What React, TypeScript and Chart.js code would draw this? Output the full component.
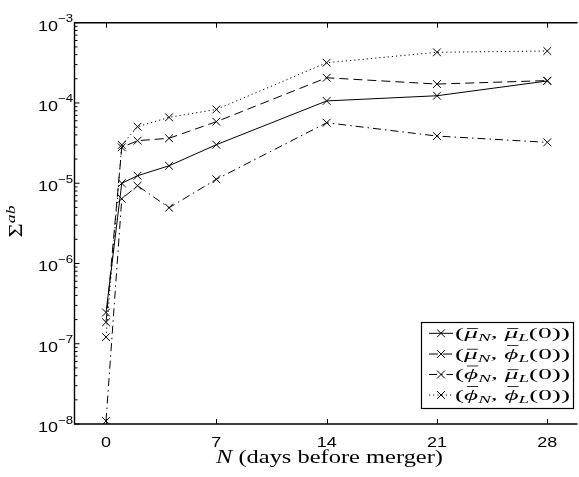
import React, { useEffect, useRef } from "react";
import { Chart, registerables } from "chart.js";

Chart.register(...registerables);

// ---- data ----
const days = [0, 1, 2, 4, 7, 14, 21, 28];
const muMu = [2.45e-7, 1.0e-5, 1.24e-5, 1.65e-5, 3.02e-5, 1.06e-4, 1.23e-4, 1.88e-4];
const muPhi = [1.85e-7, 2.8e-5, 3.39e-5, 3.63e-5, 5.84e-5, 2.06e-4, 1.72e-4, 1.9e-4];
const phiMu = [1.09e-8, 6.4e-6, 9.3e-6, 4.95e-6, 1.12e-5, 5.67e-5, 3.87e-5, 3.23e-5];
const phiPhi = [1.21e-7, 3.0e-5, 5.06e-5, 6.62e-5, 8.3e-5, 3.17e-4, 4.28e-4, 4.44e-4];
const seriesLabels = ["(μ̄N, μ̄L(0))", "(μ̄N, ϕ̄L(0))", "(ϕ̄N, μ̄L(0))", "(ϕ̄N, ϕ̄L(0))"];
const legendFirst = ["μ", "μ", "ϕ", "ϕ"];
const legendSecond = ["μ", "ϕ", "μ", "ϕ"];
const xTicks = [0, 7, 14, 21, 28];
const yExponents = [-8, -7, -6, -5, -4, -3];
const xTitleItalic = "N";
const xTitleRest = " (days before merger)";

const SANS = '"Liberation Sans", Arial, sans-serif';
const SERIF = '"Liberation Serif", "Times New Roman", serif';

type Seg = {
  t: string;
  italic?: boolean;
  size?: number;
  dy?: number;
  bar?: number; // bar height as fraction of size
};

function drawRich(
  ctx: CanvasRenderingContext2D,
  x: number,
  y: number,
  segs: Seg[],
  size: number,
  family: string,
  sx: number,
  align: "left" | "center" | "right",
  targetWidth?: number
) {
  const fontFor = (s: Seg) => `${s.italic ? "italic " : ""}${s.size ?? size}px ${family}`;
  const widths = segs.map((s) => {
    ctx.font = fontFor(s);
    return ctx.measureText(s.t).width;
  });
  const total = widths.reduce((a, b) => a + b, 0);
  const scale = targetWidth ? targetWidth / total : sx;
  ctx.save();
  ctx.translate(x, y);
  ctx.scale(scale, 1);
  ctx.textBaseline = "alphabetic";
  ctx.textAlign = "left";
  let cx = align === "left" ? 0 : align === "center" ? -total / 2 : -total;
  segs.forEach((s, i) => {
    ctx.font = fontFor(s);
    const dy = s.dy ?? 0;
    ctx.fillText(s.t, cx, dy);
    if (s.bar) {
      const sz = s.size ?? size;
      const by = dy - sz * s.bar;
      ctx.beginPath();
      ctx.lineWidth = 0.8;
      ctx.moveTo(cx + widths[i] * 0.2, by);
      ctx.lineTo(cx + widths[i] * 1.0, by);
      ctx.stroke();
    }
    cx += widths[i];
  });
  ctx.restore();
}

const barFor = (g: string) => (g === "ϕ" ? 0.84 : 0.6);

function legendSegs(a: string, b: string, size: number): Seg[] {
  const sub = size * 0.7;
  return [
    { t: "(" },
    { t: a, italic: true, bar: barFor(a) },
    { t: "N", italic: true, size: sub, dy: size * 0.22 },
    { t: ", " },
    { t: b, italic: true, bar: barFor(b) },
    { t: "L", italic: true, size: sub, dy: size * 0.22 },
    { t: "(0))" },
  ];
}

const dashes: number[][] = [[], [9, 5], [8, 4, 1.5, 4], [1.2, 3]];

const axesPlugin = {
  id: "matlabAxes",
  afterDraw(chart: any) {
    const ctx: CanvasRenderingContext2D = chart.ctx;
    const { left, right, top, bottom } = chart.chartArea;
    const xs = chart.scales.x;
    const ys = chart.scales.y;
    ctx.save();
    ctx.strokeStyle = "#000";
    ctx.fillStyle = "#000";
    ctx.lineWidth = 1.4;
    ctx.beginPath();
    ctx.moveTo(right + 5, top);
    ctx.lineTo(left, top);
    ctx.lineTo(left, bottom);
    ctx.lineTo(right + 5, bottom);
    ctx.stroke();

    ctx.lineWidth = 1;
    xTicks.forEach((v) => {
      const px = Math.round(xs.getPixelForValue(v)) + 0.5;
      ctx.beginPath();
      ctx.moveTo(px, bottom);
      ctx.lineTo(px, bottom - 5);
      ctx.moveTo(px, top);
      ctx.lineTo(px, top + 5);
      ctx.stroke();
      drawRich(ctx, xs.getPixelForValue(v), bottom + 22.7, [{ t: String(v) }], 15, SANS, 1.2, "center");
    });

    yExponents.forEach((e, i) => {
      const py = ys.getPixelForValue(Math.pow(10, e));
      ctx.beginPath();
      ctx.moveTo(left, py);
      ctx.lineTo(left + 5, py);
      ctx.stroke();
      if (i < yExponents.length - 1) {
        for (let k = 2; k <= 9; k++) {
          const pm = ys.getPixelForValue(k * Math.pow(10, e));
          ctx.beginPath();
          ctx.moveTo(left, pm);
          ctx.lineTo(left + 3, pm);
          ctx.stroke();
        }
      }
      drawRich(
        ctx,
        left - 1.5,
        py + 8,
        [{ t: "10" }, { t: "−" + Math.abs(e), size: 11, dy: -8.5 }],
        15,
        SANS,
        1.2,
        "right"
      );
    });

    // x title
    drawRich(
      ctx,
      329.5,
      462.7,
      [{ t: xTitleItalic, italic: true }, { t: xTitleRest }],
      18,
      SERIF,
      1,
      "center",
      227
    );

    // y title (rotated)
    ctx.save();
    ctx.translate(22, 221.5);
    ctx.rotate(-Math.PI / 2);
    drawRich(ctx, 0, 0, [{ t: "Σ" }, { t: "ab", italic: true, size: 13, dy: -7 }], 18, SERIF, 1, "center", 32);
    ctx.restore();

    // legend
    const bx = 421, by = 322, bw = 152, bh = 86;
    ctx.fillStyle = "#fff";
    ctx.fillRect(bx, by, bw, bh);
    ctx.strokeStyle = "#000";
    ctx.lineWidth = 1.2;
    ctx.strokeRect(bx + 0.5, by + 0.5, bw, bh);
    ctx.fillStyle = "#000";
    const rows = [333.3, 354.0, 374.5, 395.0];
    chart.data.datasets.forEach((ds: any, i: number) => {
      const cy = rows[i];
      ctx.save();
      ctx.lineWidth = 1;
      ctx.setLineDash(dashes[i]);
      ctx.beginPath();
      ctx.moveTo(429, cy);
      ctx.lineTo(453, cy);
      ctx.stroke();
      ctx.restore();
      const r = 5.5 * Math.SQRT1_2;
      ctx.lineWidth = 1;
      ctx.beginPath();
      ctx.moveTo(441 - r, cy - r);
      ctx.lineTo(441 + r, cy + r);
      ctx.moveTo(441 - r, cy + r);
      ctx.lineTo(441 + r, cy - r);
      ctx.stroke();
      drawRich(ctx, 455, cy + 4.5, legendSegs(legendFirst[i], legendSecond[i], 15.5), 15.5, SERIF, 1, "left", 115);
    });
    ctx.restore();
  },
};

export default function App() {
  const ref = useRef<HTMLCanvasElement>(null);
  useEffect(() => {
    if (!ref.current) return;
    const series = [muMu, muPhi, phiMu, phiPhi];
    const chart = new Chart(ref.current, {
      type: "line",
      data: {
        datasets: series.map((vals, i) => ({
          label: seriesLabels[i],
          data: days.map((d, j) => ({ x: d, y: vals[j] })),
          borderColor: "#000",
          backgroundColor: "#000",
          borderWidth: 1,
          borderDash: dashes[i],
          pointStyle: "crossRot",
          pointRadius: 5.5,
          pointBorderWidth: 1,
          pointBorderColor: "#000",
          tension: 0,
          fill: false,
        })),
      },
      options: {
        responsive: false,
        animation: false,
        devicePixelRatio: 1,
        layout: { padding: { top: 22.7, left: 0, right: 0, bottom: 0 } },
        plugins: { legend: { display: false }, tooltip: { enabled: false } },
        scales: {
          x: {
            type: "linear",
            min: -2,
            max: 29.6,
            grid: { display: false },
            border: { display: false },
            ticks: { display: false },
            afterBuildTicks: (s: any) => {
              s.ticks = xTicks.map((v) => ({ value: v }));
            },
            afterFit: (s: any) => {
              s.height = 53;
            },
          },
          y: {
            type: "logarithmic",
            min: 1e-8,
            max: 1e-3,
            grid: { display: false },
            border: { display: false },
            ticks: { display: false },
            afterFit: (s: any) => {
              s.width = 74.5;
            },
          },
        },
      },
      plugins: [axesPlugin],
    } as any);
    return () => chart.destroy();
  }, []);
  return (
    <div style={{ position: "absolute", left: 0, top: 0, width: 579, height: 477, background: "#fff" }}>
      <canvas ref={ref} width={579} height={477} style={{ width: 579, height: 477, display: "block" }} />
    </div>
  );
}
